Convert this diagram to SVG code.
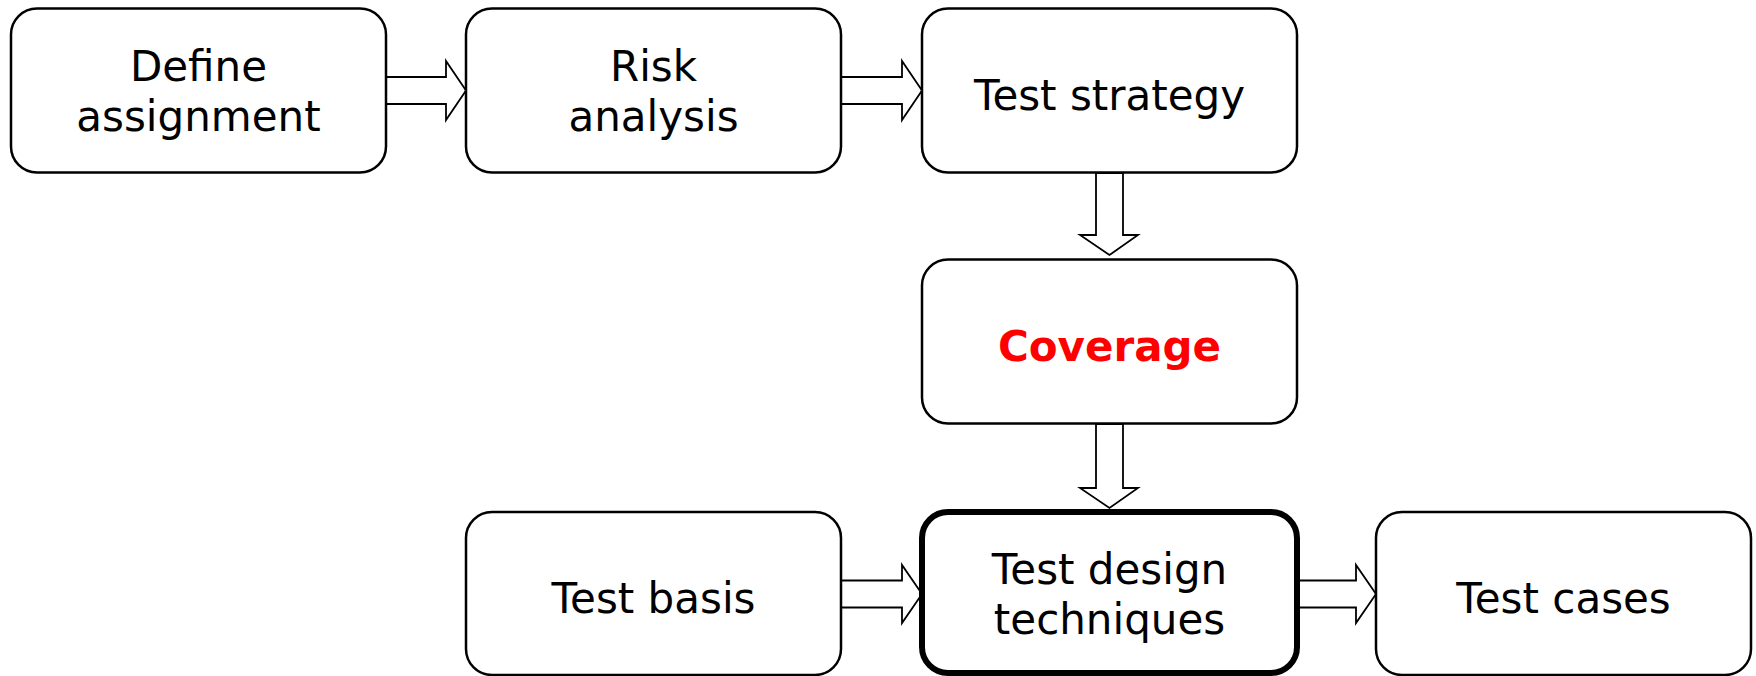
<svg xmlns="http://www.w3.org/2000/svg" width="1756" height="676" viewBox="0 0 1756 676">
<style>
.box{fill:#fff;stroke:#000;stroke-width:2.5}
.thick{stroke-width:6}
.arr{fill:#fff;stroke:#000;stroke-width:1.8;stroke-linejoin:miter}
.t{font-family:"DejaVu Sans",Verdana,sans-serif;font-size:42px;fill:#000;text-anchor:middle}
.red{fill:#ff0000;font-weight:bold}
</style>
<rect width="1756" height="676" fill="#fff"/>
<g id="connectors">
<polygon class="arr" points="386,77 446,77 446,61 466,90.5 446,120 446,104 386,104"/>
<polygon class="arr" points="841,77 902,77 902,61 922,90.5 902,120 902,104 841,104"/>
<polygon class="arr" points="1096,173 1123,173 1123,235 1138,235 1109.5,255 1080,235 1096,235"/>
<polygon class="arr" points="1096,424 1123,424 1123,488 1138,488 1109.5,508 1080,488 1096,488"/>
<polygon class="arr" points="841,580.5 902,580.5 902,565 922,594 902,623 902,607.5 841,607.5"/>
<polygon class="arr" points="1297,580.5 1356,580.5 1356,565 1376,594 1356,623 1356,607.5 1297,607.5"/>
</g>
<g id="define-assignment">
<rect class="box" x="11" y="8.5" width="375" height="164" rx="26"/>
<text class="t" x="198.5" y="81">Define</text>
<text class="t" x="198.5" y="131">assignment</text>
</g>
<g id="risk-analysis">
<rect class="box" x="466" y="8.5" width="375" height="164" rx="26"/>
<text class="t" x="653.5" y="81">Risk</text>
<text class="t" x="653.5" y="131">analysis</text>
</g>
<g id="test-strategy">
<rect class="box" x="922" y="8.5" width="375" height="164" rx="26"/>
<text class="t" x="1109.5" y="110">Test strategy</text>
</g>
<g id="coverage">
<rect class="box" x="922" y="259.5" width="375" height="164" rx="26"/>
<text class="t red" x="1109.5" y="360.5">Coverage</text>
</g>
<g id="test-basis">
<rect class="box" x="466" y="512" width="375" height="163" rx="26"/>
<text class="t" x="653.5" y="613">Test basis</text>
</g>
<g id="test-design-techniques">
<rect class="box thick" x="922" y="512" width="375" height="161" rx="26"/>
<text class="t" x="1109.5" y="584">Test design</text>
<text class="t" x="1109.5" y="634">techniques</text>
</g>
<g id="test-cases">
<rect class="box" x="1376" y="512" width="375" height="163" rx="26"/>
<text class="t" x="1563.5" y="613">Test cases</text>
</g>
</svg>
